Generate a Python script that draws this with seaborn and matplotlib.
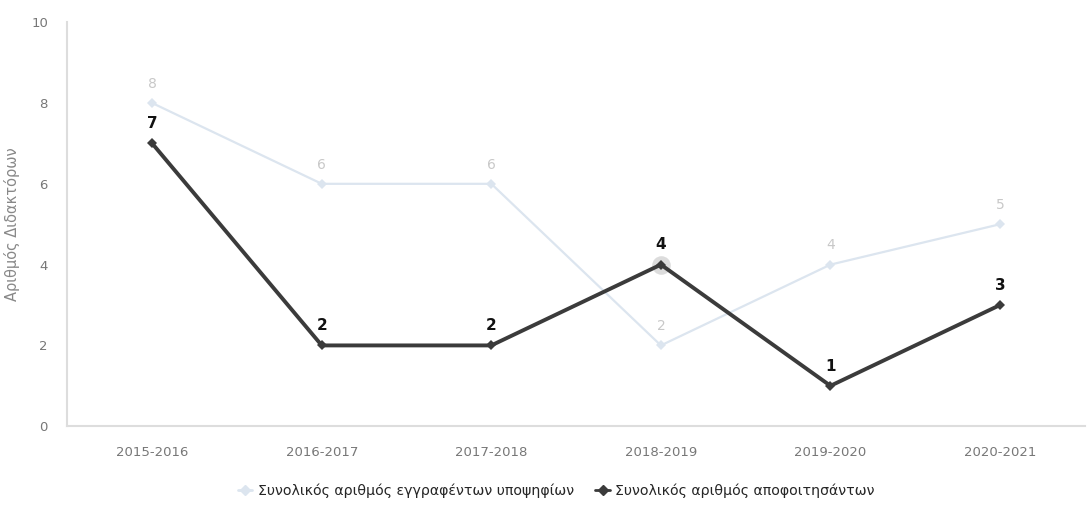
import matplotlib.pyplot as plt
import pandas as pd
import seaborn as sns
from matplotlib.lines import Line2D

years = ["2015-2016", "2016-2017", "2017-2018", "2018-2019", "2019-2020", "2020-2021"]
registered = [8, 6, 6, 2, 4, 5]
graduated = [7, 2, 2, 4, 1, 3]
series_names = ["Συνολικός αριθμός εγγραφέντων υποψηφίων", "Συνολικός αριθμός αποφοιτησάντων"]
y_label = "Αριθμός Διδακτόρων"

sns.set_style("white")
plt.rcParams['font.family'] = ['DejaVu Sans']

df = pd.DataFrame({
    "year": years * 2,
    "value": registered + graduated,
    "series": [series_names[0]] * len(years) + [series_names[1]] * len(years),
})
colors = {series_names[0]: "#dce5ef", series_names[1]: "#3b3b3b"}

fig = plt.figure(figsize=(10.87, 5.05), dpi=100)
ax = fig.add_axes([0.062, 0.156, 0.936, 0.8])
sns.lineplot(data=df, x="year", y="value", hue="series", palette=colors, marker="D",
             markersize=5, markeredgewidth=0, ax=ax, legend=False, sort=False)
for line, lw in zip(ax.lines, [1.6, 2.8]):
    line.set_linewidth(lw)

x_pos = range(len(years))
for i, v in zip(x_pos, registered):
    ax.text(i, v + 0.3, str(v), ha="center", va="bottom", fontsize=10, color="#c8c8c8")
for i, v in zip(x_pos, graduated):
    ax.text(i, v + 0.3, str(v), ha="center", va="bottom", fontsize=11, color="#111111",
            fontweight="bold")
# highlighted point
ax.scatter([3], [graduated[3]], s=180, color="#bbbbbb", alpha=0.5, zorder=1, linewidths=0)

ax.set_xlim(-0.5, 5.5)
ax.set_ylim(0, 10)
ax.set_yticks([0, 2, 4, 6, 8, 10])
ax.set_xlabel("")
ax.set_ylabel(y_label, fontsize=10.5, color="#888888")
ax.yaxis.set_label_coords(-0.047, 0.5)
ax.tick_params(axis="both", colors="#777777", labelsize=9.5, length=0)
ax.tick_params(axis="x", pad=14)
ax.tick_params(axis="y", pad=14)
for side in ["top", "right"]:
    ax.spines[side].set_visible(False)
for side in ["left", "bottom"]:
    ax.spines[side].set_color("#dddddd")
    ax.spines[side].set_linewidth(1.5)

handles = [Line2D([], [], color=colors[n], marker="D", markersize=5, lw=2) for n in series_names]
fig.legend(handles, series_names, loc="center", bbox_to_anchor=(0.512, 0.028), ncol=2,
           frameon=False, fontsize=10.2, handlelength=1.0, columnspacing=1.5, handletextpad=0.4)

fig.savefig("out.png", dpi=100)
